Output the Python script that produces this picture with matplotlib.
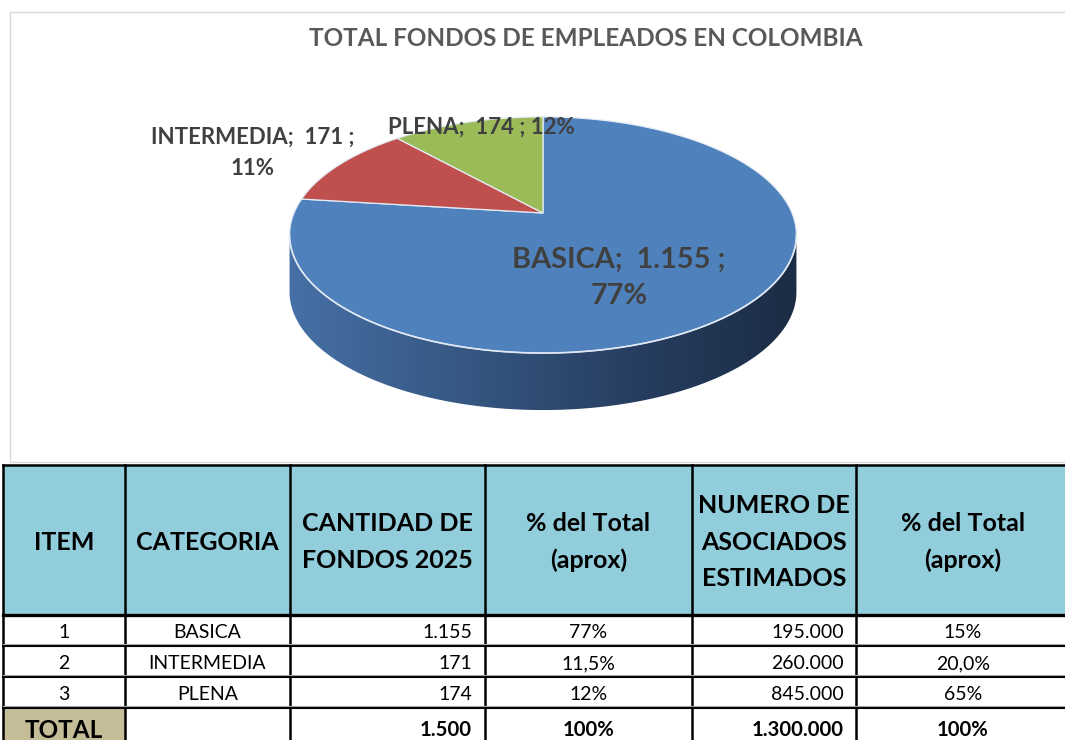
#Total fondos de empleados en Colombia - 3D pie + summary table
import numpy as np
import matplotlib.pyplot as plt
from matplotlib.patches import Polygon, Rectangle
from matplotlib.colors import LinearSegmentedColormap

plt.rcParams['font.family'] = ['Lato', 'DejaVu Sans']

#data
categorias = ['BASICA', 'INTERMEDIA', 'PLENA']
items = ['1', '2', '3']
cantidad = [1155, 171, 174]            #cantidad de fondos 2025
pct_fondos = ['77%', '11,5%', '12%']   #% del total (aprox) as written
asociados = [195000, 260000, 845000]   #numero de asociados estimados
pct_asoc = ['15%', '20,0%', '65%']
headers = ['ITEM', 'CATEGORIA', 'CANTIDAD DE\nFONDOS 2025', '% del Total\n(aprox)',
           'NUMERO DE\nASOCIADOS\nESTIMADOS', '% del Total\n(aprox)']
colores = ['#4f81bd', '#c0504d', '#9bbb59']
titulo = 'TOTAL FONDOS DE EMPLEADOS EN COLOMBIA'

def miles(v):
    return f'{v:,}'.replace(',', '.')

total_fondos = sum(cantidad)
total_asoc = sum(asociados)

fig = plt.figure(figsize=(10.65, 7.40), dpi=100)
ax = fig.add_axes([0, 0, 1, 1])

#chart frame
ax.add_patch(Rectangle((10, 12), 1100, 450, fill=False, edgecolor='#d9d9d9', lw=1))
ax.text(586, 39, titulo, ha='center', va='center', fontsize=17.5, fontweight='bold', color='#595959')

#pie geometry (perspective ellipse)
cx, cy = 543, 213
A, B, k = 249, 114, 0.186
T = 57  #thickness

def proj(th, drop=0.0):
    u, v = np.cos(th), np.sin(th)
    d = 1 + k * v
    return cx + A * u / d, cy - B * v / d + drop

#side (only the front is visible, all of it belongs to BASICA)
th = np.linspace(np.pi + np.arcsin(k), 2 * np.pi - np.arcsin(k), 300)
xt, yt = proj(th)
xb, yb = proj(th[::-1], T)
side = Polygon(np.column_stack([np.r_[xt, xb], np.r_[yt, yb]]), closed=True,
               facecolor='none', edgecolor='none')
ax.add_patch(side)
cmap = LinearSegmentedColormap.from_list('lado', ['#4670a6', '#365883', '#283f62', '#1b2c44'])
im = ax.imshow(np.linspace(0, 1, 256)[None, :], cmap=cmap, aspect='auto',
               extent=[xt.min() - 2, xt.max() + 2, yb.max() + 2, yt.min() - 2])
im.set_clip_path(side)

#top slices, clockwise from 12 o'clock like Excel
cum = 0
for v, c in zip(cantidad, colores):
    a0 = np.pi / 2 - 2 * np.pi * cum / total_fondos
    a1 = np.pi / 2 - 2 * np.pi * (cum + v) / total_fondos
    t = np.linspace(a0, a1, 200)
    x, y = proj(t)
    pts = np.column_stack([np.r_[cx, x], np.r_[cy, y]])
    ax.add_patch(Polygon(pts, closed=True, facecolor=c, edgecolor='#e4ecf5', lw=0.9))
    cum += v

#light rim on the front edge
ax.plot(xt, yt, color='#dfe8f3', lw=1.2)

#pie labels
pct = [round(v / total_fondos * 100) for v in cantidad]
ax.text(619, 278, f'{categorias[0]};  {miles(cantidad[0])} ;\n{pct[0]}%', ha='center', va='center',
        fontsize=20.8, fontweight='bold', color='#404040', linespacing=1.5)
ax.text(253, 153, f'{categorias[1]};  {miles(cantidad[1])} ;\n{pct[1]}%', ha='center', va='center',
        fontsize=16, fontweight='bold', color='#404040', linespacing=1.6)
ax.text(481, 127, f'{categorias[2]};  {miles(cantidad[2])} ; {pct[2]}%', ha='center', va='center',
        fontsize=16, fontweight='bold', color='#404040')

#table
xs = [3, 125, 290, 485, 692, 856, 1070]
ys = [465, 615, 646, 677, 708, 760]
for i in range(6):
    ax.add_patch(Rectangle((xs[i], ys[0]), xs[i + 1] - xs[i], ys[1] - ys[0], facecolor='#92cddc', edgecolor='none'))
ax.add_patch(Rectangle((xs[0], ys[4]), xs[1] - xs[0], ys[5] - ys[4], facecolor='#c4bd97', edgecolor='none'))

for x in xs:
    ax.plot([x, x], [ys[0], ys[-1]], color='black', lw=1.8)
ax.plot([xs[0], xs[-1]], [ys[0], ys[0]], color='black', lw=1.8)
ax.plot([xs[0], xs[-1]], [ys[1], ys[1]], color='black', lw=2.4)
for y in ys[2:5]:
    ax.plot([xs[0], xs[-1]], [y, y], color='black', lw=1.5)
    ax.plot([xs[0], xs[-1]], [y - 2, y - 2], color='#a6a6a6', lw=0.8)

centros = [(xs[i] + xs[i + 1]) / 2 for i in range(6)]
for i, h in enumerate(headers):
    ax.text(centros[i], 542, h, ha='center', va='center', fontsize=18, fontweight='bold',
            color='black', linespacing=1.72)

for r in range(3):
    yc = (ys[r + 1] + ys[r + 2]) / 2 + 2
    ax.text(centros[0], yc, items[r], ha='center', va='center', fontsize=14)
    ax.text(centros[1], yc, categorias[r], ha='center', va='center', fontsize=14)
    ax.text(xs[3] - 13, yc, miles(cantidad[r]), ha='right', va='center', fontsize=14)
    ax.text(centros[3], yc, pct_fondos[r], ha='center', va='center', fontsize=14)
    ax.text(xs[5] - 12, yc, miles(asociados[r]), ha='right', va='center', fontsize=14)
    ax.text(centros[5], yc, pct_asoc[r], ha='center', va='center', fontsize=14)

yt_ = 730
ax.text(centros[0], yt_, 'TOTAL', ha='center', va='center', fontsize=17.5, fontweight='bold')
ax.text(xs[3] - 13, yt_, miles(total_fondos), ha='right', va='center', fontsize=14.6, fontweight='bold')
ax.text(centros[3], yt_, '100%', ha='center', va='center', fontsize=14.6, fontweight='bold')
ax.text(xs[5] - 12, yt_, miles(total_asoc), ha='right', va='center', fontsize=14.6, fontweight='bold')
ax.text(centros[5], yt_, '100%', ha='center', va='center', fontsize=14.6, fontweight='bold')

ax.set_xlim(0, 1065)
ax.set_ylim(740, 0)
ax.axis('off')
fig.savefig('out.png', dpi=100)
